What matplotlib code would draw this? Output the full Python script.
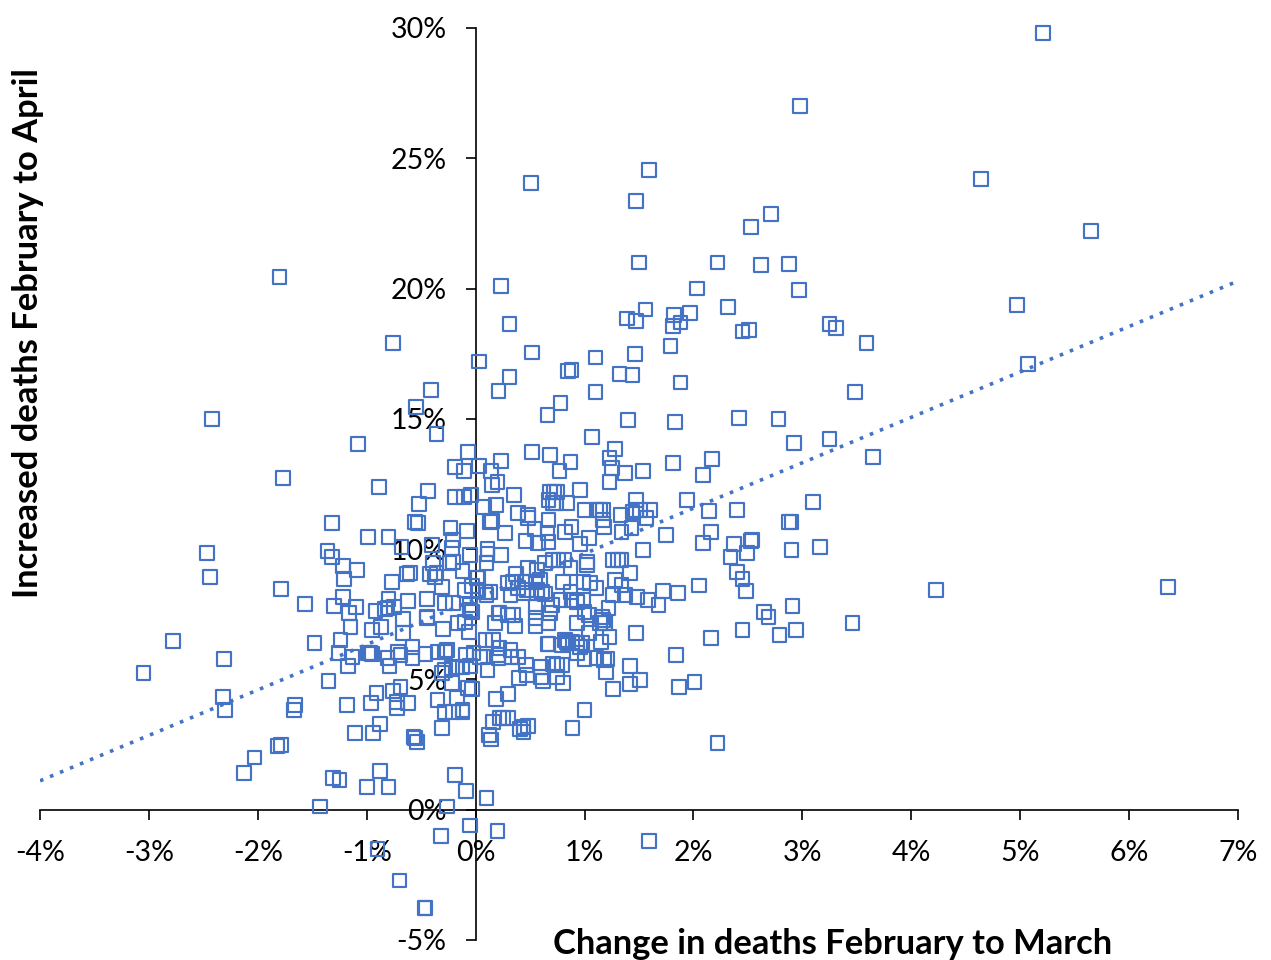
#!/usr/bin/env python3

import matplotlib
matplotlib.use('Agg')
import matplotlib.pyplot as plt
from matplotlib.ticker import FuncFormatter

plt.rcParams['font.family'] = ['Lato','DejaVu Sans']

# change in deaths Feb to Mar (%), increased deaths Feb to Apr (%)
outer_x = [5.21,2.98,0.51,1.59,4.64,1.47,2.71,2.53,5.65,1.50,2.22,2.62,2.88,-1.80,0.23,2.03,2.97,4.97,2.32,1.56,
           1.97,1.82,1.39,1.47,1.88,1.81,0.31,3.25,3.31,2.45,2.51,-0.76,1.79,3.59,0.52,1.46,1.10,0.03,5.07,0.85,
           0.88,1.32,1.44,0.31,1.88,-0.41,1.10,0.21,3.48,0.78,-0.55,0.66,-2.42,2.42,2.78,1.40,1.83,-0.36,1.07,3.25,
           2.92,-1.08,1.28,-0.07,0.52,0.68,3.65,2.17,1.23,0.23,0.87,1.81,-0.19,0.03,1.54,1.25,1.37,-0.11,0.14,0.77,
           2.09,-1.77,1.23,0.20,0.15,-0.89,0.96,-0.44,0.35,-0.19,-0.04,3.10,1.94,1.47,-0.52,0.19,0.08,2.40,2.14,0.39]
outer_y = [29.8,27.0,24.05,24.55,24.2,23.36,22.86,22.36,22.2,21.0,21.0,20.9,20.95,20.45,20.1,20.0,19.95,19.37,19.3,19.2,
           19.05,19.0,18.85,18.75,18.7,18.55,18.65,18.65,18.5,18.35,18.4,17.9,17.8,17.9,17.55,17.5,17.35,17.2,17.1,16.85,
           16.87,16.72,16.68,16.6,16.4,16.1,16.03,16.07,16.03,15.6,15.45,15.15,15.0,15.03,15.0,14.95,14.88,14.42,14.3,14.23,
           14.08,14.04,13.85,13.73,13.73,13.62,13.54,13.46,13.5,13.39,13.35,13.31,13.16,13.2,13.0,13.12,12.93,13.0,13.0,13.0,
           12.85,12.74,12.58,12.58,12.47,12.39,12.27,12.24,12.08,12.0,12.08,11.81,11.89,11.89,11.74,11.7,11.62,11.5,11.47,11.39]

right_x = [0.68,0.72,0.75,0.67,0.71,0.74,0.84,1.60,1.47,1.51,1.00,1.17,1.11,1.14,0.48,0.48,0.15,0.13,1.33,1.44,
           1.57,1.17,1.18,1.34,1.43,0.88,0.82,0.67,0.27,0.54,0.46,0.57,0.67,0.66,1.04,0.96,2.88,2.90,2.16,1.75,
           2.09,2.53,2.54,2.37,3.16,2.90,2.49,1.54,2.34,2.40,2.45,2.05,6.36,4.23,2.48,1.72,1.86,1.58,1.68,2.91,
           2.65,2.69,3.46,2.94,2.45,2.79,2.16,1.47,1.84,2.01,1.87,1.51,1.42,1.42,1.26,1.00,0.89,2.22,0.11,0.11,
           0.10,0.23,1.26,1.31,1.34,1.42,1.02,1.02,0.76,0.71,0.81,0.64,0.87,0.56,0.48,0.37,0.02,0.30,1.28,1.34,
           1.37,0.99,1.05,1.11,0.80,0.87,0.39,0.47,0.56,0.61,0.34,0.45,0.55,0.59,0.10,0.32,0.44,0.56,0.64,0.78,
           0.88,0.93,0.99,1.26,1.48,0.55,0.70,0.68,1.00,1.04,1.22,1.16,1.17,1.14,1.19,0.21,0.22,0.30,0.34,0.36,
           0.55,0.55,0.67,0.93,-0.03,0.18,1.04,1.23,1.15,0.66,0.67,0.82,0.84,0.85,0.89,0.93,0.98,0.96,0.93,0.79,
           0.09,0.16,0.22,0.21,0.21,0.32,0.33,0.39,0.04,0.07,0.11,0.46,0.40,0.47,0.60,0.60,0.62,0.71,0.75,0.79,
           0.75,0.80,1.00,1.11,1.18,1.21,1.20,0.19,0.30,0.16,0.22,0.25,0.30,0.12,0.14,0.41,0.44,0.48,0.44,0.02,
           0.09,0.13]
right_y = [12.2,12.2,12.2,11.89,11.78,11.78,11.78,11.5,11.5,11.5,11.5,11.5,11.5,11.5,11.32,11.2,11.09,11.05,11.32,11.43,
           11.2,11.12,10.86,10.66,10.82,10.86,10.66,11.12,10.62,10.78,10.32,10.24,10.28,10.62,10.43,10.2,11.05,11.05,10.66,10.55,
           10.24,10.3,10.35,10.2,10.09,9.97,9.86,9.97,9.7,9.13,8.86,8.6,8.55,8.44,8.4,8.4,8.32,8.06,7.86,7.82,
           7.6,7.4,7.17,6.9,6.9,6.71,6.6,6.79,5.95,4.91,4.72,4.99,4.83,5.52,4.64,3.84,3.15,2.57,10.01,9.82,
           9.47,9.78,9.59,9.59,9.59,9.09,9.51,9.4,9.59,9.59,9.59,9.47,9.28,9.2,9.28,9.05,8.9,8.7,8.82,8.63,
           8.25,8.75,8.71,8.52,8.75,8.36,8.52,8.44,8.44,8.36,8.75,8.75,8.75,8.82,8.25,8.25,8.32,8.32,8.28,8.06,
           8.06,7.98,8.06,8.25,8.17,7.79,7.86,7.55,7.6,7.48,7.75,7.4,7.29,7.17,7.17,7.55,7.55,7.48,7.48,7.06,
           7.36,7.06,7.17,7.17,7.6,7.17,6.79,6.64,6.44,6.37,6.37,6.52,6.44,6.41,6.44,6.41,6.41,6.25,6.02,6.33,
           6.52,6.52,6.21,5.95,5.83,6.14,5.87,5.87,5.87,5.87,5.37,5.56,5.06,5.18,5.49,5.1,4.95,5.6,5.56,5.56,
           5.1,4.87,5.79,5.83,5.75,5.79,5.29,4.26,4.45,3.38,3.53,3.53,3.53,2.88,2.69,3.11,3.18,3.22,2.99,8.44,
           8.36,8.36]

left_x = [-0.56,-0.53,-1.32,-0.99,-0.80,-1.36,-2.47,-1.32,-1.22,-1.09,-2.44,-1.21,-0.77,-1.79,-1.22,-1.57,-1.30,-1.10,-1.16,-1.15,
          -0.92,-0.80,-0.83,-0.81,-0.75,-0.62,-0.45,-0.28,-0.21,-0.67,-0.45,-0.45,-0.30,-0.95,-0.87,-0.67,-0.16,-0.10,-0.05,-0.06,
          -1.48,-1.24,-1.26,-1.13,-1.17,-1.35,-0.99,-0.97,-0.95,-0.81,-0.79,-0.71,-0.69,-0.58,-0.58,-0.46,-0.35,-0.26,-0.28,-0.09,
          -0.02,-0.28,-0.31,-0.22,-0.17,-0.12,-0.05,-0.22,-0.07,-0.03,-0.69,-0.76,-0.91,-0.96,-0.72,-0.72,-0.62,-0.35,-0.17,-0.28,
          -0.21,-0.12,-0.12,-0.31,-0.57,-0.56,-0.54,-2.78,-2.31,-3.05,-2.32,-2.30,-1.66,-1.67,-1.18,-1.11,-0.94,-0.88,-1.82,-1.79,
          -2.03,-2.13,-1.31,-1.25,-0.88,-1.00,-0.80,-0.19,-0.09,0.10,-0.26,-1.43,-0.32,-0.05,0.20,1.59,-0.90,-0.70,-0.47,-0.46,
          -0.11,-0.23,-0.08,-0.68,-0.40,-0.21,-0.22,-0.05,-0.63,-0.60,-0.42,-0.36,-0.37,-0.39,-0.24,-0.21,-0.12,-0.31,-0.03,0.01,
          -0.10,-0.05]
left_y = [11.05,11.0,11.0,10.47,10.47,9.93,9.86,9.7,9.36,9.2,8.94,8.86,8.75,8.48,8.17,7.9,7.82,7.79,7.55,7.02,
          7.63,8.09,7.71,7.75,7.79,8.02,8.09,7.94,7.94,7.33,7.4,7.36,6.94,6.9,7.02,6.79,7.17,7.21,7.67,6.83,
          6.4,6.52,6.02,5.87,5.52,4.95,6.02,6.02,5.98,5.83,5.52,6.06,5.95,6.25,5.83,5.98,6.06,6.14,6.06,5.95,
          6.02,5.37,5.25,5.45,5.49,5.49,5.52,4.87,4.68,4.64,4.72,4.56,4.49,4.1,4.14,3.91,4.1,4.22,4.3,3.76,
          3.76,3.76,3.84,3.15,2.8,2.76,2.61,6.48,5.79,5.25,4.33,3.84,4.03,3.84,4.03,2.95,2.95,3.3,2.45,2.49,
          2.0,1.42,1.23,1.15,1.5,0.88,0.88,1.34,0.73,0.46,0.12,0.12,-1.0,-0.61,-0.81,-1.19,-1.5,-2.72,-3.76,-3.76,
          12.0,10.82,10.7,10.09,10.17,10.36,10.05,9.78,9.05,9.09,9.05,9.09,8.94,9.47,9.47,9.51,9.17,8.55,8.59,8.9,
          8.44,7.86]

trend_x = [-4,7]
trend_y = [1.11,20.29]

xticks = [-4,-3,-2,-1,0,1,2,3,4,5,6,7]
yticks = [-5,0,5,10,15,20,25,30]

blue = '#4472C4'

fig = plt.figure(figsize=(12.71,9.6),dpi=100)
ax = fig.add_axes([40/1271,1-940/960,1198/1271,912/960])

ax.plot(trend_x,trend_y,color=blue,linestyle=(0,(1,2)),linewidth=2.6,zorder=2)
for xs,ys in [(outer_x,outer_y),(right_x,right_y),(left_x,left_y)] :
    ax.scatter(xs,ys,marker='s',s=98,facecolors='none',edgecolors=blue,linewidths=1.55,zorder=3,clip_on=False)

ax.set_xlim(-4,7)
ax.set_ylim(-5,30)
ax.set_xticks(xticks)
ax.set_yticks(yticks)
ax.xaxis.set_major_formatter(FuncFormatter(lambda v,p : '%d%%'%v))
ax.yaxis.set_major_formatter(FuncFormatter(lambda v,p : '%d%%'%v))

ax.spines['top'].set_visible(False)
ax.spines['right'].set_visible(False)
ax.spines['left'].set_position(('data',0))
ax.spines['bottom'].set_position(('data',0))
ax.spines['left'].set_linewidth(1.2)
ax.spines['bottom'].set_linewidth(1.2)

ax.tick_params(axis='x',direction='out',length=7,width=1.2,pad=15,labelsize=20.5)
ax.tick_params(axis='y',direction='out',length=7,width=1.2,pad=14,labelsize=20.5)
for label in ax.get_xticklabels()+ax.get_yticklabels() :
    label.set_zorder(5)

fig.text(833/1271,1-944/960,'Change in deaths February to March',fontsize=24.85,fontweight='bold',
         ha='center',va='center')
fig.text(28/1271,1-333/960,'Increased deaths February to April',fontsize=24.85,fontweight='bold',
         rotation=90,ha='center',va='center')

fig.savefig('out.png',dpi=100)
